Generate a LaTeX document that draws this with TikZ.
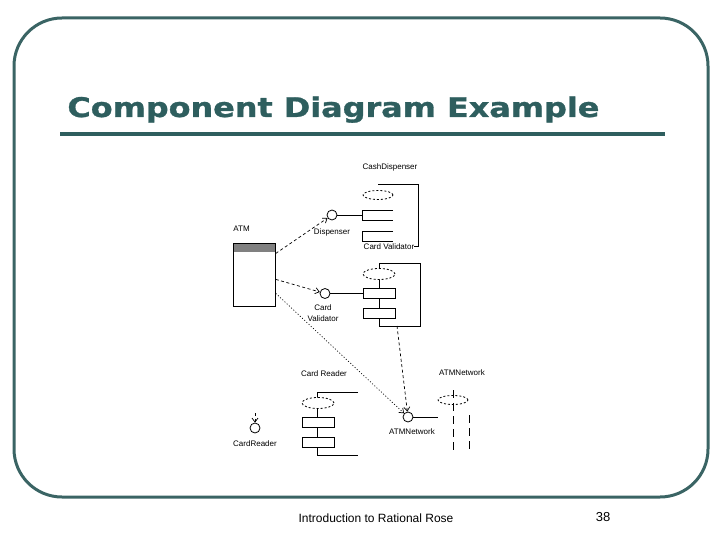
\documentclass[tikz,border=0pt]{standalone}
\usepackage{graphicx}
\usepackage{fontspec}
\setmainfont{Liberation Sans}
\newfontfamily\titlefont{DejaVu Sans}[BoldFeatures={FakeBold=1}]
\usepackage{tikz}
\usetikzlibrary{positioning, arrows.meta}
\definecolor{slateteal}{RGB}{46,94,94}
\definecolor{framegreen}{RGB}{58,100,100}
\tikzset{
	smalltext/.style={font=\fontsize{8}{11}\selectfont, inner sep=0pt}
}
\tikzset{
	foottext/.style={font=\fontsize{12}{14}\selectfont, inner sep=0pt}
}

\begin{document}
\begin{tikzpicture}[x=1pt, y=-1pt, line width=0.8pt]

\tikzset{
    iface/.style={
        shape=circle,
        draw=black,
        fill=white,
        minimum size=10pt,
        inner sep=0pt
    },
    portbox/.style={
        shape=rectangle,
        draw=black,
        fill=white,
        minimum width=32pt,
        minimum height=10pt,
        inner sep=0pt
    },
    classbox/.style={
        shape=rectangle,
        draw=black,
        fill=white,
        minimum width=42pt,
        minimum height=63pt,
        inner sep=0pt,
        path picture={\fill[gray] (path picture bounding box.north west) rectangle ([yshift=-9pt]path picture bounding box.north east);}
    },
    stereo/.style={dash pattern=on 2pt off 2pt, fill=white},
    depline/.style={line width=0.7pt, dash pattern=on 3pt off 2.5pt, -{Straight Barb[length=4pt,width=6pt]}},
    useline/.style={line width=0.7pt, dash pattern=on 1pt off 2pt, -{Straight Barb[length=4pt,width=6pt]}}
}

\useasboundingbox (0,0) rectangle (720,540);
\draw[framegreen, line width=3pt, rounded corners=48pt] (14,18) rectangle (708,497);

\node[anchor=base west, inner sep=0pt, text=slateteal] (title) at (67,117)
  {\scalebox{1.18}[1]{\titlefont\bfseries\fontsize{27}{30}\selectfont Component Diagram Example}};
\draw[slateteal, line width=4pt] (60,134) -- (665,134);

% ATM class
\node[classbox, anchor=north west] (atm) at (233,243) {};
\node[smalltext, anchor=base west] (atmlabel) at (233,231) {ATM};

% CashDispenser
\node[smalltext, anchor=base] (c1label) at (390,170) {CashDispenser};
\draw (378,184) -- (418,184) -- (418,246) -- (378,246);
\draw[stereo] (378,195) ellipse [x radius=15pt, y radius=4.5pt];
\draw (393,210) -- (362,210) -- (362,220) -- (393,220);
\draw (393,231) -- (362,231) -- (362,241) -- (393,241);
\coordinate (p11) at (362,215);

% Card Validator
\node[smalltext, anchor=base, fill=white] (c2label) at (389,249) {Card Validator};
\draw (379,263) rectangle (420,326);
\draw[stereo] (379,274) ellipse [x radius=16pt, y radius=5.5pt];
\node[portbox] (p21) at (379,293.5) {};
\node[portbox] (p22) at (379,313.5) {};
\coordinate (c2s) at (397,326);

% Card Reader
\node[smalltext, anchor=base] (c3label) at (324,376) {Card Reader};
\draw (358,392) -- (317,392) -- (317,455) -- (358,455);
\draw[stereo] (318,403) ellipse [x radius=16pt, y radius=5.5pt];
\node[portbox] (p31) at (318,422) {};
\node[portbox] (p32) at (318,442) {};

% ATMNetwork
\node[smalltext, anchor=base] (c4label) at (462,375) {ATMNetwork};
\draw[dash pattern=on 2pt off 2pt] (453,400) ellipse [x radius=15pt, y radius=4.5pt];
\draw[dash pattern=on 8pt off 5pt] (453,390) -- (453,452);
\draw[dash pattern=on 8pt off 5pt] (469,415) -- (469,452);

% interfaces
\node[iface] (i1) at (332,215) {};
\node[iface] (i2) at (325,293.5) {};
\node[iface] (i3) at (408,417) {};
\node[iface] (i4) at (255,428) {};
\node[smalltext, below=8pt of i1] (i1label) {Dispenser};
\node[smalltext, below=5pt of i2, align=center, xshift=-2pt] (i2label) {Card\\Validator};
\node[smalltext, below=6pt of i3, xshift=4pt] (i3label) {ATMNetwork};
\node[smalltext, below=7pt of i4] (i4label) {CardReader};
\coordinate (n1) at (438,417);
\coordinate (s4) at (255,413);

\draw (i1) -- (p11);
\draw (i2) -- (p21);
\draw (i3) -- (n1);

\draw[depline] ([yshift=21.5pt]atm.east) -- (i1);
\draw[depline] ([yshift=-4.5pt]atm.east) -- (i2);
\draw[useline] ([yshift=-18.5pt]atm.east) -- (i3);
\draw[depline] (c2s) -- (i3);
\draw[depline] (s4) -- (i4);

\node[foottext, anchor=base] (foot) at (376,522) {Introduction to Rational Rose};
\node[anchor=base, inner sep=0pt, font=\fontsize{13}{15}\selectfont] (page) at (603,521) {38};
\end{tikzpicture}
\end{document}
